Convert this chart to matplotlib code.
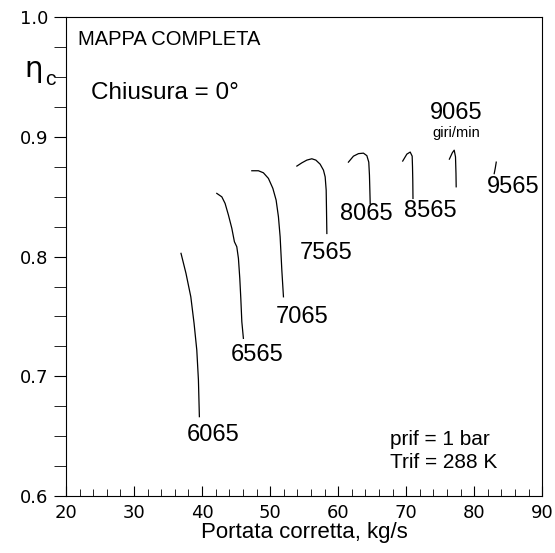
import numpy as np
import matplotlib
matplotlib.use("Agg")
import matplotlib.pyplot as plt
from matplotlib.ticker import MultipleLocator

plt.rcParams['font.family'] = ['Liberation Sans', 'DejaVu Sans']

# efficiency curves, one per corrected speed (giri/min)
speeds = ['6065', '6565', '7065', '7565', '8065', '8565', '9065', '9565']

x_6065 = [36.90, 37.63, 38.34, 38.82, 39.22, 39.46, 39.60]
y_6065 = [0.8027, 0.7860, 0.7664, 0.7442, 0.7219, 0.6969, 0.6663]

x_6565 = [42.16, 42.90, 43.38, 43.87, 44.37, 44.75, 45.10, 45.34, 45.54, 45.69, 45.84, 46.07]
y_6565 = [0.8528, 0.8499, 0.8444, 0.8347, 0.8236, 0.8124, 0.8082, 0.7985, 0.7818, 0.7651, 0.7456, 0.7317]

x_7065 = [47.31, 48.28, 49.01, 49.75, 50.40, 50.88, 51.22, 51.47, 51.62, 51.72, 51.96]
y_7065 = [0.8717, 0.8717, 0.8700, 0.8653, 0.8570, 0.8472, 0.8333, 0.8166, 0.7999, 0.7887, 0.7664]

x_7565 = [53.93, 54.66, 55.40, 56.13, 56.72, 57.35, 57.84, 58.09, 58.24, 58.28, 58.34]
y_7565 = [0.8756, 0.8783, 0.8806, 0.8817, 0.8806, 0.8772, 0.8722, 0.8666, 0.8555, 0.8415, 0.8193]

x_8065 = [61.51, 62.25, 62.99, 63.72, 64.22, 64.50, 64.60, 64.66, 64.71]
y_8065 = [0.8789, 0.8839, 0.8860, 0.8864, 0.8843, 0.8789, 0.8681, 0.8555, 0.8444]

x_8565 = [69.49, 70.10, 70.59, 70.88, 70.93, 70.97, 71.00]
y_8565 = [0.8798, 0.8856, 0.8873, 0.8839, 0.8750, 0.8639, 0.8486]

x_9065 = [76.35, 76.79, 77.06, 77.25, 77.32, 77.35]
y_9065 = [0.8814, 0.8868, 0.8889, 0.8833, 0.8695, 0.8583]

x_9565 = [83.24, 83.10, 82.94]
y_9565 = [0.8789, 0.8740, 0.8693]

curves_x = [x_6065, x_6565, x_7065, x_7565, x_8065, x_8565, x_9065, x_9565]
curves_y = [y_6065, y_6565, y_7065, y_7565, y_8065, y_8565, y_9065, y_9565]

# label anchor points (centre of each speed label)
label_x = [41.6, 48.1, 54.7, 58.2, 64.1, 73.5, 77.3, 85.7]
label_y = [0.651, 0.718, 0.7495, 0.803, 0.8355, 0.838, 0.920, 0.858]

fig = plt.figure(figsize=(5.55, 5.53), dpi=100)
ax = fig.add_axes([0.119, 0.103, 0.858, 0.866])

for cx, cy in zip(curves_x, curves_y):
    ax.plot(cx, cy, color='black', lw=0.9)

for s, lx, ly in zip(speeds, label_x, label_y):
    ax.text(lx, ly, s, fontsize=17, ha='center', va='center')

ax.text(77.4, 0.903, 'giri/min', fontsize=10.5, ha='center', va='center')

ax.text(21.8, 0.981, 'MAPPA COMPLETA', fontsize=14.5, ha='left', va='center')
ax.text(23.7, 0.9365, 'Chiusura = 0°', fontsize=17.5, ha='left', va='center')
ax.text(67.6, 0.647, 'prif = 1 bar', fontsize=15, ha='left', va='center')
ax.text(67.6, 0.628, 'Trif = 288 K', fontsize=15, ha='left', va='center')

# eta_c axis symbol, upright
fig.text(0.044, 0.875, 'η', fontsize=21, ha='left', va='center', family='DejaVu Sans')
fig.text(0.082, 0.856, 'c', fontsize=15, ha='left', va='center')

ax.set_xlim(20, 90)
ax.set_ylim(0.6, 1.0)
ax.xaxis.set_major_locator(MultipleLocator(10))
ax.xaxis.set_minor_locator(MultipleLocator(2))
ax.yaxis.set_major_locator(MultipleLocator(0.1))
ax.yaxis.set_minor_locator(MultipleLocator(0.025))
ax.yaxis.set_major_formatter(plt.FormatStrFormatter('%.1f'))

ax.tick_params(axis='x', which='both', direction='in', top=False, labelsize=13, pad=6)
ax.tick_params(axis='x', which='major', length=7)
ax.tick_params(axis='x', which='minor', length=5)
ax.tick_params(axis='y', which='both', direction='out', right=False, length=9, labelsize=13)
for lab in ax.get_xticklabels() + ax.get_yticklabels():
    lab.set_fontfamily('DejaVu Sans')

for sp in ax.spines.values():
    sp.set_linewidth(0.8)

ax.set_xlabel('Portata corretta, kg/s', fontsize=16, labelpad=0)

fig.savefig('out.png', dpi=100)
